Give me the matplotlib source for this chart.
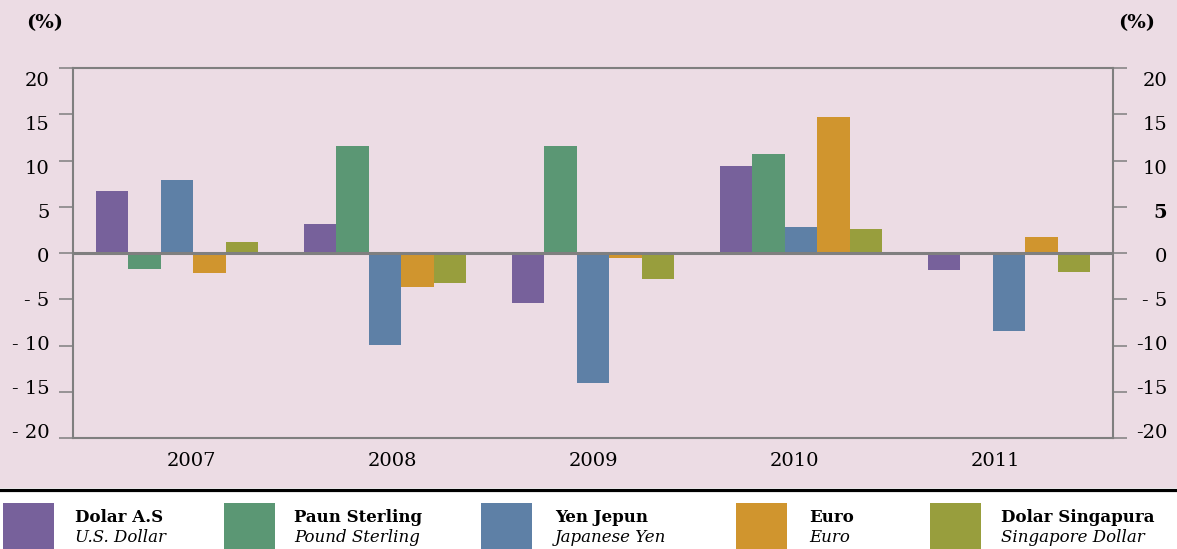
import numpy as np
import matplotlib
matplotlib.use("Agg")
import matplotlib.pyplot as plt
from matplotlib.patches import Rectangle
from matplotlib.lines import Line2D

plt.rcParams['font.family'] = ['DejaVu Serif']

# data (percent change)
years = ['2007', '2008', '2009', '2010', '2011']
usd = [6.7, 3.1, -5.4, 9.4, -1.8]
gbp = [-1.7, 11.6, 11.6, 10.7, 0.0]
jpy = [7.9, -9.9, -14.1, 2.8, -8.4]
eur = [-2.2, -3.7, -0.5, 14.7, 1.7]
sgd = [1.2, -3.2, -2.8, 2.6, -2.1]

names_ms = ['Dolar A.S', 'Paun Sterling', 'Yen Jepun', 'Euro', 'Dolar Singapura']
names_en = ['U.S. Dollar', 'Pound Sterling', 'Japanese Yen', 'Euro', 'Singapore Dollar']
colors = ['#77619b', '#5b9774', '#5e80a6', '#d0952e', '#989e3d']

yticks = [-20, -15, -10, -5, 0, 5, 10, 15, 20]
left_labels = ['- 20', '- 15', '- 10', '- 5', '0', '5', '10', '15', '20']
right_labels = ['-20', '-15', '-10', '- 5', '0', '5', '10', '15', '20']

pink = '#ecdce4'
grey = '#7f7f7f'

W, H = 1177, 549
fig = plt.figure(figsize=(W / 100, H / 100), dpi=100, facecolor='white')
fig.patches.append(Rectangle((0, 61 / H), 1, 1, transform=fig.transFigure,
                             facecolor=pink, edgecolor='none', zorder=-10))
fig.lines.append(Line2D([0, 1], [59 / H, 59 / H], transform=fig.transFigure,
                        color='black', lw=2.3))

ax = fig.add_axes([73 / W, 111 / H, 1040 / W, 370 / H])
ax.set_facecolor('none')

series = [usd, gbp, jpy, eur, sgd]
x = np.arange(len(years))
w = 0.156
for j, (vals, c) in enumerate(zip(series, colors)):
    ax.bar(x + (j - 2) * w, vals, width=w, color=c, zorder=2)

ax.axhline(0, color=grey, lw=2.2, zorder=3)
ax.set_xlim(-0.5, 4.5)
ax.set_ylim(-20, 20)

for s in ax.spines.values():
    s.set_color(grey)
    s.set_linewidth(1.5)

# in the original the labels are spaced a little tighter than the ticks,
# so tick marks are minor ticks and the labels ride on label-only major ticks
lab_pos = np.array(yticks) * 0.952 - 0.25
ax.set_yticks(yticks, minor=True)
ax.set_yticks(lab_pos)
ax.set_yticklabels(left_labels)
ax.tick_params(axis='y', which='minor', length=10, width=1.1, color=grey)
ax.tick_params(axis='y', which='major', length=0, pad=17, labelsize=14)
# category labels sit slightly inside the group centres in the original
ax.set_xticks(np.arange(len(years)) * 0.966 + 0.07)
ax.set_xticklabels(years)
ax.tick_params(axis='x', length=0, pad=10, labelsize=14)

ax2 = ax.twinx()
ax2.set_ylim(-20, 20)
ax2.set_yticks(yticks, minor=True)
ax2.set_yticks(lab_pos)
ax2.set_yticklabels(right_labels)
ax2.tick_params(axis='y', which='minor', length=10, width=1.1, color=grey)
ax2.tick_params(axis='y', which='major', length=0, pad=39, labelsize=14)
for lab in ax2.get_yticklabels():
    lab.set_horizontalalignment('right')
    if lab.get_text() == '5':
        lab.set_fontweight('bold')
for s in ax2.spines.values():
    s.set_visible(False)

fig.text(45 / W, 1 - 23 / H, '(%)', fontsize=14, fontweight='bold',
         ha='center', va='center')
fig.text(1137 / W, 1 - 23 / H, '(%)', fontsize=14, fontweight='bold',
         ha='center', va='center')

# legend drawn by hand below the black rule
sq_x = [3, 224, 481, 736, 930]
txt_x = [75, 294, 555, 809, 1001]
for sx, tx, c, ms, en in zip(sq_x, txt_x, colors, names_ms, names_en):
    fig.patches.append(Rectangle((sx / W, -0.05), 51 / W, (H - 503) / H + 0.05,
                                 transform=fig.transFigure, facecolor=c,
                                 edgecolor='none'))
    fig.text(tx / W, 1 - 518 / H, ms, fontsize=12, fontweight='bold',
             ha='left', va='center')
    fig.text(tx / W, 1 - 537 / H, en, fontsize=12, style='italic',
             ha='left', va='center')

fig.savefig('out.png', dpi=100, facecolor=fig.get_facecolor())
